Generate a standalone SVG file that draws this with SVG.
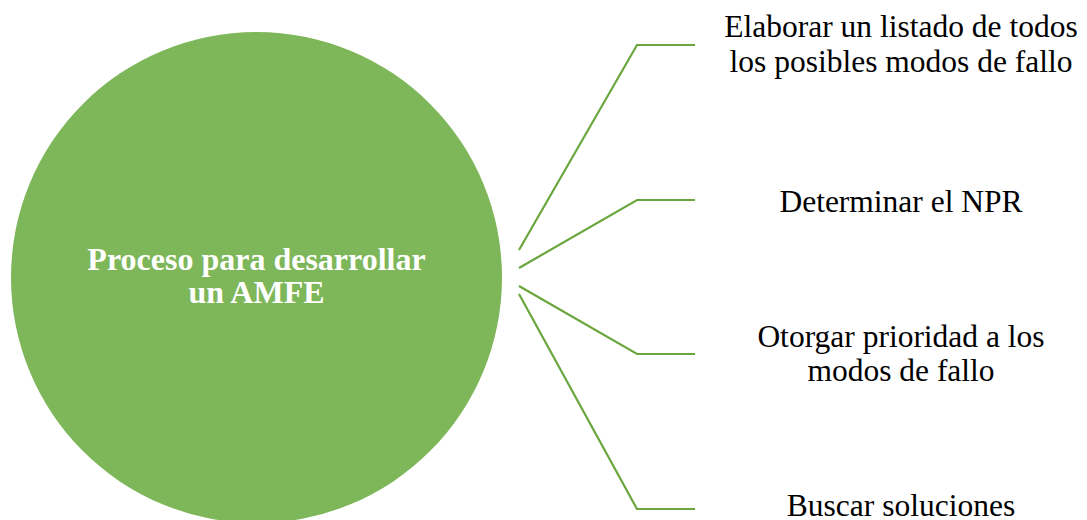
<svg xmlns="http://www.w3.org/2000/svg" width="1087" height="520" viewBox="0 0 1087 520">
  <style>
    .hub { fill: #7EB65A; }
    .hub-text { font-size: 32px; font-weight: bold; fill: #FFFFFF; text-anchor: middle; }
    .step-text { font-size: 31.5px; fill: #000000; text-anchor: middle; }
    .link { fill: none; stroke: #6AA63E; stroke-width: 2.2; stroke-linejoin: miter; }
  </style>
  <rect width="1087" height="520" fill="#FFFFFF"/>

  <!-- central node -->
  <g id="hub" font-family="Liberation Serif, Tinos, DejaVu Serif, serif">
    <circle class="hub" cx="256.5" cy="277.5" r="245.5"/>
    <text class="hub-text" x="256.5" y="270">Proceso para desarrollar</text>
    <text class="hub-text" x="256.5" y="303">un AMFE</text>
  </g>

  <!-- bracket connectors from the hub to each step -->
  <g id="connectors">
    <polyline class="link" points="519,250 637,45 695,45"/>
    <polyline class="link" points="519,268 637,200 695,200"/>
    <polyline class="link" points="519,286 637,354 695,354"/>
    <polyline class="link" points="519,294 637,509 695,509"/>
  </g>

  <!-- steps -->
  <g id="step-1" font-family="Liberation Serif, Tinos, DejaVu Serif, serif">
    <text class="step-text" x="901" y="37">Elaborar un listado de todos</text>
    <text class="step-text" x="901" y="72">los posibles modos de fallo</text>
  </g>
  <g id="step-2" font-family="Liberation Serif, Tinos, DejaVu Serif, serif">
    <text class="step-text" x="901" y="211.5">Determinar el NPR</text>
  </g>
  <g id="step-3" font-family="Liberation Serif, Tinos, DejaVu Serif, serif">
    <text class="step-text" x="901" y="346.5">Otorgar prioridad a los</text>
    <text class="step-text" x="901" y="381">modos de fallo</text>
  </g>
  <g id="step-4" font-family="Liberation Serif, Tinos, DejaVu Serif, serif">
    <text class="step-text" x="901" y="516">Buscar soluciones</text>
  </g>
</svg>
